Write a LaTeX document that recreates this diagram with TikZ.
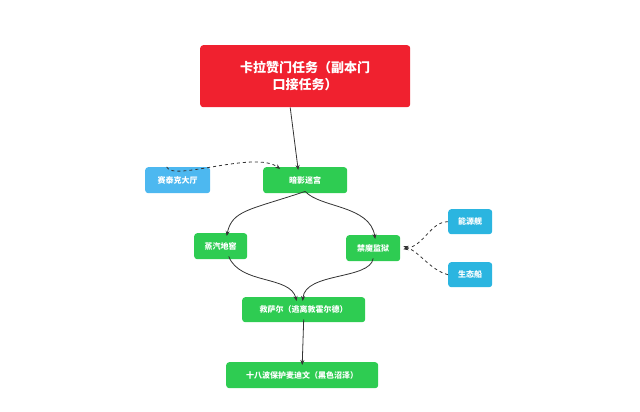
\documentclass[tikz,border=0pt]{standalone}
\usepackage{fontspec}
\setmainfont{Noto Sans CJK SC}
\usetikzlibrary{arrows.meta}
\definecolor{tred}{HTML}{F0212F}
\definecolor{tgreen}{HTML}{2ECC52}
\definecolor{tblue}{HTML}{4DB8F0}
\definecolor{tblue2}{HTML}{2BB5E0}
\begin{document}
\begin{tikzpicture}[x=1pt,y=-1pt,
  box/.style={rounded corners=3pt,text=white,font=\bfseries\fontsize{8}{10}\selectfont,inner sep=0pt,anchor=north west},
  conn/.style={draw=black!80,line width=0.8pt,-{Stealth[length=5pt,width=4pt]}},
  dconn/.style={conn,dashed}]
\useasboundingbox (0,0) rectangle (640,412);
\node[box,fill=tred,minimum width=210pt,minimum height=62pt,font=\bfseries\fontsize{13}{17}\selectfont,align=center] (t) at (200,45) {卡拉赞门任务（副本门\\口接任务）};
\node[box,fill=tblue,minimum width=65pt,minimum height=26pt] (s) at (145,167) {赛泰克大厅};
\node[box,fill=tgreen,minimum width=84pt,minimum height=26pt] (a) at (263,167) {暗影迷宫};
\node[box,fill=tgreen,minimum width=53pt,minimum height=26pt] (z) at (194,233) {蒸汽地窖};
\node[box,fill=tgreen,minimum width=54pt,minimum height=26pt] (j) at (346,235) {禁魔监狱};
\node[box,fill=tblue2,minimum width=44pt,minimum height=25pt] (n) at (448,209) {能源舰};
\node[box,fill=tblue2,minimum width=44pt,minimum height=25pt] (e) at (448,262) {生态船};
\node[box,fill=tgreen,minimum width=123pt,minimum height=25pt] (x) at (242,297) {救萨尔（逃离敦霍尔德）};
\node[box,fill=tgreen,minimum width=152pt,minimum height=26pt] (h) at (226,362) {十八波保护麦迪文（黑色沼泽）};
\draw[conn] (t.south)++(-15,0) coordinate (t1) (t1) -- ([xshift=-7pt,yshift=-3pt]a.north);
\draw[dconn] ([xshift=-11pt]s.north) .. controls ([xshift=-5pt,yshift=-15pt]s.north) and (255,150) .. ([xshift=-25pt,yshift=-2pt]a.north);
\draw[conn] ([yshift=2pt]a.south) .. controls (250,210) and (232,210) .. ([xshift=6pt,yshift=-3pt]z.north);
\draw[conn] ([yshift=2pt]a.south) .. controls (320,208) and (370,205) .. ([xshift=2pt,yshift=-4pt]j.north);
\draw[conn] ([xshift=8pt,yshift=3pt]z.south) .. controls (240,285) and (290,275) .. ([xshift=-7pt,yshift=-4pt]x.north);
\draw[conn] ([xshift=0pt,yshift=3pt]j.south) .. controls (370,280) and (305,272) .. ([xshift=-1pt,yshift=-4pt]x.north);
\draw[dconn] (n.west) .. controls (430,222) and (425,245) .. ([xshift=3pt,yshift=-1pt]j.east);
\draw[dconn] (e.west) .. controls (430,270) and (420,252) .. ([xshift=3pt,yshift=2pt]j.east);
\draw[conn] ([yshift=3pt]x.south) -- ([yshift=-3pt]h.north);
\end{tikzpicture}
\end{document}
